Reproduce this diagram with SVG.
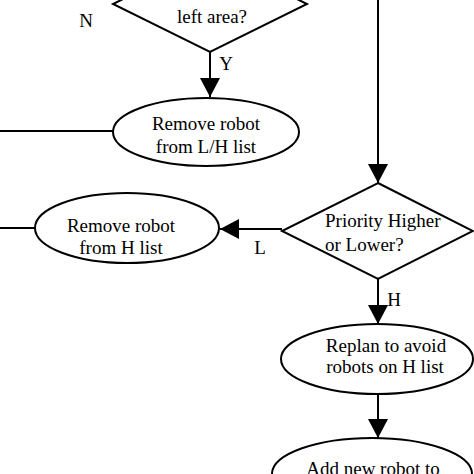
<svg xmlns="http://www.w3.org/2000/svg" width="474" height="474" viewBox="0 0 474 474">
<defs>
<style>
.shape{fill:#fff;stroke:#000;stroke-width:2}
.line{fill:none;stroke:#000;stroke-width:2}
text{font-family:"Liberation Serif","Times New Roman",serif;font-size:19px;fill:#000}
.c{text-anchor:middle}
</style>
<marker id="arr" markerWidth="19" markerHeight="20" refX="19" refY="10" orient="auto" markerUnits="userSpaceOnUse">
<path d="M0,0 L19,10 L0,20 Z" fill="#000"/>
</marker>
</defs>
<rect width="474" height="474" fill="#fff"/>
<g id="connectors">
<path class="line" d="M210,52 V97" marker-end="url(#arr)"/>
<path class="line" d="M0,131 H113"/>
<path class="line" d="M378,0 V183" marker-end="url(#arr)"/>
<path class="line" d="M282,229 H220" marker-end="url(#arr)"/>
<path class="line" d="M0,228 H35"/>
<path class="line" d="M378,279 V324" marker-end="url(#arr)"/>
<path class="line" d="M378,394 V438" marker-end="url(#arr)"/>
<text x="86" y="27" class="c">N</text>
<text x="226" y="70" class="c">Y</text>
<text x="260" y="254" class="c">L</text>
<text x="394" y="306" class="c">H</text>
</g>
<g id="decision1">
<path class="shape" d="M210,-44 L307,4 L210,52 L113,4 Z"/>
<text x="212" y="23" class="c">left area?</text>
</g>
<g id="removeLH">
<ellipse class="shape" cx="206" cy="132" rx="93" ry="34"/>
<text x="206" y="130" class="c">Remove robot</text>
<text x="206" y="153" class="c">from L/H list</text>
</g>
<g id="decision2">
<path class="shape" d="M378,183 L473,231 L378,279 L282,231 Z"/>
<text x="325" y="227">Priority Higher</text>
<text x="325" y="251">or Lower?</text>
</g>
<g id="removeH">
<ellipse class="shape" cx="127" cy="228" rx="92" ry="35"/>
<text x="121" y="232" class="c">Remove robot</text>
<text x="121" y="254" class="c">from H list</text>
</g>
<g id="replan">
<ellipse class="shape" cx="377" cy="359" rx="96" ry="35"/>
<text x="386" y="352" class="c">Replan to avoid</text>
<text x="385" y="373" class="c">robots on H list</text>
</g>
<g id="addNew">
<ellipse class="shape" cx="372" cy="474" rx="100" ry="36"/>
<text x="373" y="475" class="c">Add new robot to</text>
</g>
</svg>
